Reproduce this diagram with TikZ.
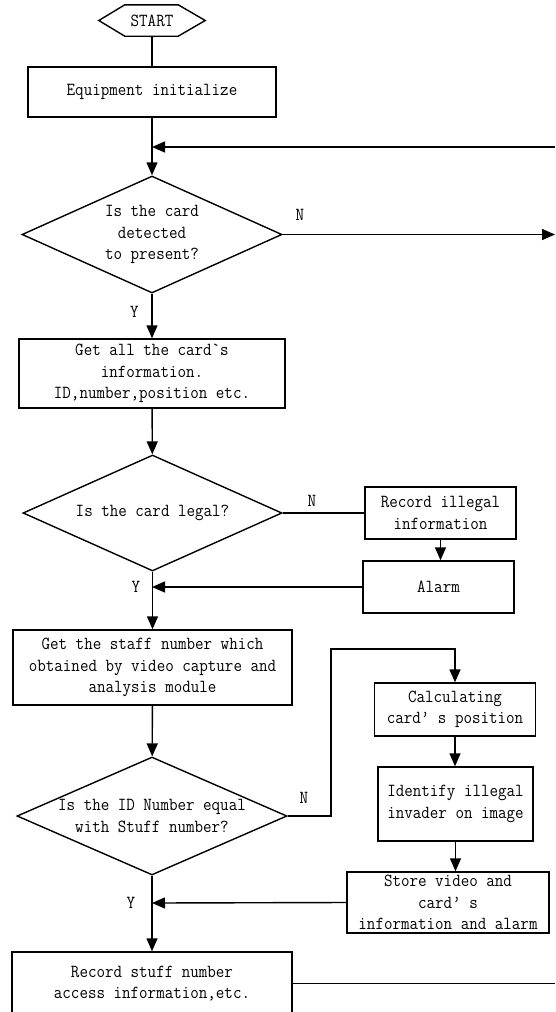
\documentclass[tikz,border=0pt]{standalone}
\usepackage{fontspec}
\setmonofont[FakeStretch=0.9]{Latin Modern Mono}
\usetikzlibrary{shapes.geometric,arrows.meta}
\begin{document}
\begin{tikzpicture}[x=1pt,y=-1pt,
  every node/.style={font=\ttfamily\fontsize{18.4}{21.5}\selectfont, align=center, inner sep=0pt},
  box/.style={draw, line width=1.4pt, rectangle},
  dia/.style={draw, line width=1.4pt, diamond},
  ln/.style={line width=1.4pt},
  arr/.style={line width=1.4pt, -{Triangle[length=13pt,width=11pt]}}]
\useasboundingbox (0,0) rectangle (555,1012);
\clip (0,0) rectangle (555,1012);
% nodes
\node[minimum width=106, minimum height=31] (start) at (152,20.5) {START};
\draw[ln] (start.west) -- ([xshift=26pt]start.north west) -- ([xshift=-27pt]start.north east) -- (start.east) -- ([xshift=-27pt]start.south east) -- ([xshift=26pt]start.south west) -- cycle;
\node[box, minimum width=248, minimum height=50] (init) at (152,92) {Equipment initialize};
\node[dia, minimum width=260, minimum height=117] (d1) at (152,234.5) {};
\node (t1) at (d1.center) {Is the card\\detected\\to present?};
\node[box, minimum width=266, minimum height=69] (b2) at (152,373.5) {Get all the card`s\\information.\\ID,number,position etc.};
\node[dia, minimum width=259, minimum height=116] (d2) at (152.5,513) {};
\node (t2) at (d2.center) {Is the card legal?};
\node[box, minimum width=151, minimum height=52] (rec) at (440.5,513) {Record illegal\\information};
\node[box, minimum width=151, minimum height=52] (alarm) at (438.5,587) {Alarm};
\node[box, minimum width=279, minimum height=75] (b3) at (152.5,667.5) {Get the staff number which\\obtained by video capture and\\analysis module};
\node[dia, minimum width=270, minimum height=118] (d3) at (152,816) {};
\node (t3) at (d3.center) {Is the ID Number equal\\with Stuff number?};
\node[box, minimum width=161, minimum height=53] (calc) at (455,709.5) {Calculating\\card’ s position};
\node[box, minimum width=155, minimum height=74] (ident) at (455.5,804) {Identify illegal\\invader on image};
\node[box, minimum width=202, minimum height=61] (store) at (448,902.5) {Store video and\\card’ s\\information and alarm};
\node[box, minimum width=280, minimum height=63] (b4) at (152,983.5) {Record stuff number\\access information,etc.};
% coordinates
\coordinate (j1) at (152,147); \coordinate (r1) at (555,147);
\coordinate (r2) at (555,234.5);
\coordinate (j2) at (152,587);
\coordinate (c1) at (331,816); \coordinate (c2) at (331,649); \coordinate (c3) at (455,649);
\coordinate (j3) at (152,903);
\coordinate (r3) at (555,983.5);
% connectors
\draw[ln] (start) -- (init);
\draw[arr] (init) -- (d1);
\draw[arr] (r1) -- (j1);
\draw[arr] (d1.east) -- (r2);
\node (n1) at (300,215) {N};
\draw[arr] (d1) -- (b2);
\node (y1) at (134.5,312) {Y};
\draw[arr] (b2) -- (d2);
\draw[ln] (d2.east) -- (rec.west);
\node (n2) at (312,501) {N};
\draw[arr] (rec.south) -- (rec.south |- alarm.north);
\draw[arr] (alarm.west) -- (j2);
\node (y2) at (136,587) {Y};
\draw[arr] (d2) -- (b3);
\draw[arr] (b3) -- (d3);
\draw[arr] (d3.east) -- (c1) -- (c2) -- (c3) -- (calc.north);
\node (n3) at (304,798) {N};
\draw[arr] (calc.south) -- (calc.south |- ident.north);
\draw[arr] (ident.south) -- (ident.south |- store.north);
\draw[arr] (store.west) -- (j3);
\node (y3) at (131,903) {Y};
\draw[arr] (d3) -- (b4);
\draw[ln] (b4.east) -- (r3);
\end{tikzpicture}
\end{document}
